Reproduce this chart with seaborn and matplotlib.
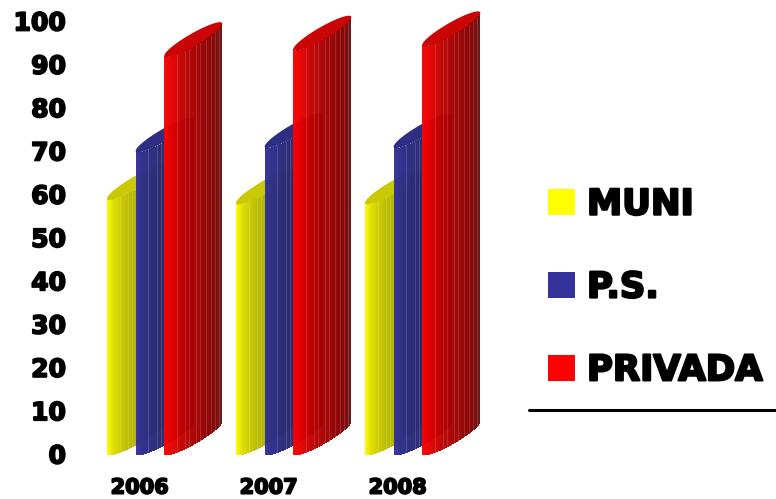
import numpy as np
import pandas as pd
import matplotlib
matplotlib.use('Agg')
import matplotlib.pyplot as plt
import matplotlib.patheffects as pe
from matplotlib.lines import Line2D
from matplotlib.patches import Patch, Polygon
import seaborn as sns

years = ['2006', '2007', '2008']
series = ['MUNI', 'P.S.', 'PRIVADA']
muni = [59, 58, 58]
ps = [70, 71, 71]
privada = [92, 93.5, 94.5]
yticks = list(range(0, 101, 10))

W, H = 776, 499
legend_colors = ['#ffff00', '#333399', '#ff0000']
# strip colours from the lit side to the dark side of each cylinder
shades = {
    'MUNI': ['#ffff00', '#dcdc00', '#bcbc00', '#b0b000', '#a8a800', '#8a8a00'],
    'P.S.': ['#323298', '#2c2c8a', '#282878', '#262668', '#22225c', '#1c1c48'],
    'PRIVADA': ['#ff0000', '#e80000', '#bc0000', '#a40000', '#840000', '#681010'],
}
tops = {'MUNI': '#c8c800', 'P.S.': '#2a2a80', 'PRIVADA': '#c80000'}
light_lines = [0.22, 0.36, 0.43, 0.55, 0.62, 0.72, 0.8, 0.88, 0.94]

df = pd.DataFrame({
    'year': years * 3,
    'serie': [s for s in series for _ in years],
    'value': muni + ps + privada,
})

sns.set_theme(style='white')
plt.rcParams['font.family'] = ['DejaVu Sans']

fig = plt.figure(figsize=(W / 100, H / 100), dpi=100)
ax = fig.add_axes([85.5 / W, (H - 454) / H, 387 / W, 433 / H])
sns.barplot(data=df, x='year', y='value', hue='serie', hue_order=series,
            width=0.667, gap=0, legend=False, ax=ax)
ax.set_xlim(-0.5, 2.5)
ax.set_ylim(0, 100)

# numeric overlay with the same scales, the category axis refuses 2D meshes
over = fig.add_axes(ax.get_position(), facecolor='none')
over.axis('off')

# pixel -> data sizes of the slanted extrusion
px_x = 3 / 387
px_y = 100 / 433
depth_x, depth_y, bulge = 58 * px_x, 32 * px_y, 7 * px_y

t = np.linspace(0, 1, 59)
stops = [0, 0.12, 0.35, 0.55, 0.85, 1]


def lift(tt, sign):
    return depth_y * tt + sign * 2 * bulge * np.sqrt(tt * (1 - tt))


bars = list(ax.patches)
z = 3
for bar, name in zip(bars, [s for s in series for _ in years]):
    x0, h = bar.get_x(), bar.get_height()
    bar.set_visible(False)
    rgb = np.array([matplotlib.colors.to_rgb(c) for c in shades[name]])
    mids = (t[:-1] + t[1:]) / 2
    cells = np.array([np.interp(mids, stops, rgb[:, i]) for i in range(3)]).T
    cells = np.c_[cells, np.full(len(mids), 0.97)][np.newaxis, :, :]
    xx = np.vstack([x0 + t * depth_x] * 2)
    yy = np.vstack([lift(t, -1), h + lift(t, -1)])
    over.pcolormesh(xx, yy, cells, shading='flat', antialiased=False,
                    zorder=z, clip_on=False)
    for lt in light_lines:
        over.plot([x0 + lt * depth_x] * 2, [lift(lt, -1), h + lift(lt, -1)],
                  color='white', alpha=0.14, lw=0.8, zorder=z + 0.1, clip_on=False)
    # top cap
    cap = 0.5 - 0.5 * np.cos(np.linspace(0, 1, 60) * np.pi)
    pts = np.r_[np.c_[x0 + cap * depth_x, h + lift(cap, 1)],
                np.c_[x0 + cap[::-1] * depth_x, h + lift(cap[::-1], -1)]]
    over.add_patch(Polygon(pts, closed=True, fc=tops[name], ec='none', alpha=0.98,
                           zorder=z + 0.2, clip_on=False))
    z += 1
over.set_xlim(ax.get_xlim())
over.set_ylim(ax.get_ylim())

stroke = [pe.withStroke(linewidth=1.3, foreground='black')]

ax.set_xlabel('')
ax.set_ylabel('')
ax.set_yticks(yticks)
ax.set_xticks(np.arange(len(years)) - 0.08)
ax.set_xticklabels(years)
ax.tick_params(axis='y', length=0, pad=14)
ax.tick_params(axis='x', length=0, pad=17)
for lab in ax.get_yticklabels():
    lab.set(fontsize=18, fontweight='bold', color='black', path_effects=stroke)
for lab in ax.get_xticklabels():
    lab.set(fontsize=15, fontweight='bold', color='black', path_effects=stroke)
sns.despine(ax=ax, left=True, bottom=True)

handles = [Patch(facecolor=c, edgecolor='none') for c in legend_colors]
leg = fig.legend(handles, series, loc='upper left', frameon=False,
                 bbox_to_anchor=(537 / W, 1 - 177 / H), fontsize=25.5,
                 handlelength=0.77, handleheight=0.77, handletextpad=0.34,
                 labelspacing=1.38, borderpad=0.3, borderaxespad=0)
for txt in leg.get_texts():
    txt.set(fontweight='bold', color='black',
            path_effects=[pe.withStroke(linewidth=1.6, foreground='black')])

fig.add_artist(Line2D([529 / W, 1], [1 - 410 / H] * 2, color='black', lw=2.2))

fig.savefig('out.png', dpi=100)
